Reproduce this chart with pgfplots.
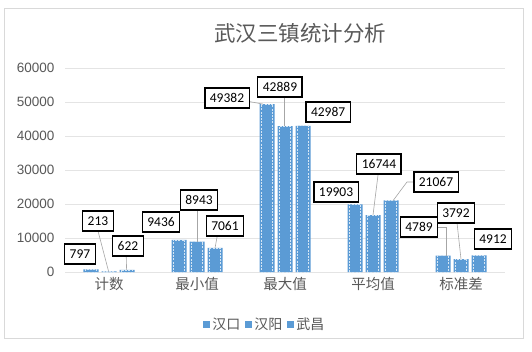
\documentclass[border=0pt]{standalone}
\usepackage{fontspec}
\usepackage{pgfplots}
\pgfplotsset{compat=1.18}
\setmainfont{Carlito}
\newfontfamily\cjk{Noto Sans CJK SC}
\newfontfamily\arialf{Liberation Sans}
\definecolor{barblue}{HTML}{5B9BD5}
\definecolor{txtgray}{HTML}{595959}
\definecolor{gridgray}{HTML}{E4E4E4}
\definecolor{framegray}{HTML}{D9D9D9}
\definecolor{leadgray}{HTML}{A6A6A6}
\pgfplotstableread{
x a b c
0 797 213 622
1 9436 8943 7061
2 49382 42889 42987
3 19903 16744 21067
4 4789 3792 4912
}\datatable
\begin{document}
\begin{tikzpicture}
\path[fill=white] (0pt,0pt) rectangle (532pt,351pt);
\draw[framegray, line width=0.8pt] (4pt,13pt) rectangle (523pt,343pt);
\node[font=\cjk\fontsize{21.5}{24}\selectfont, text=txtgray] at (300pt,318pt) {武汉三镇统计分析};
\begin{axis}[
  at={(65pt,79pt)}, anchor=south west,
  scale only axis, width=440pt, height=204pt,
  clip=false,
  xmin=-0.5, xmax=4.5, ymin=0, ymax=60000,
  ybar,
  xtick={0,1,2,3,4},
  xticklabels={计数,最小值,最大值,平均值,标准差},
  ytick={0,10000,20000,30000,40000,50000,60000},
  scaled y ticks=false,
  /pgf/number format/assume math mode=true,
  /pgf/number format/1000 sep={},
  major tick length=0pt,
  axis line style={draw=none},
  ymajorgrids, grid style={gridgray, line width=0.8pt},
  xticklabel style={font=\cjk\fontsize{14.5}{16}\selectfont, text=txtgray, yshift=-2pt},
  yticklabel style={font=\arialf\fontsize{13.5}{15}\selectfont, text=txtgray, xshift=-7pt},
  legend style={at={(0.4545,-0.255)}, anchor=center, draw=none, fill=none,
    legend columns=3, font=\cjk\fontsize{14}{16}\selectfont, text=txtgray,
    /tikz/every even column/.append style={column sep=3pt},
    /tikz/every odd column/.append style={column sep=0pt}},
  base/.style={fill=barblue, draw=none, bar width=15pt,
    legend image code/.code={\fill[barblue] (0pt,-3.5pt) rectangle (7pt,3.5pt);}},
  over/.style={fill=none, draw=white!75!barblue, dash pattern=on 2pt off 1.2pt,
    line width=0.7pt, bar width=11.5pt, forget plot},
]
\addplot[base, bar shift=-18pt] table[x=x,y=a] {\datatable};
\addplot[base, bar shift=0pt] table[x=x,y=b] {\datatable};
\addplot[base, bar shift=18pt] table[x=x,y=c] {\datatable};
\legend{汉口,汉阳,武昌}
\addplot[over, bar shift=-18pt] table[x=x,y=a] {\datatable};
\addplot[over, bar shift=0pt] table[x=x,y=b] {\datatable};
\addplot[over, bar shift=18pt] table[x=x,y=c] {\datatable};
% leader lines
\draw[leadgray, line width=0.6pt] (axis cs:-0.125,12060) -- (axis cs:-0.005,213);
\draw[leadgray, line width=0.6pt] (axis cs:0.193,7350) -- (axis cs:0.2,622);
\draw[leadgray, line width=0.6pt] (axis cs:1.0,18235) -- (axis cs:1.0,8943);
\draw[leadgray, line width=0.6pt] (axis cs:1.23,10588) -- (axis cs:1.205,7061);
\draw[leadgray, line width=0.6pt] (axis cs:1.56,50294) -- (axis cs:1.75,49382);
\draw[leadgray, line width=0.6pt] (axis cs:1.99,51471) -- (axis cs:1.99,42889);
\draw[leadgray, line width=0.6pt] (axis cs:3.057,28529) -- (axis cs:3.0,16744);
\draw[leadgray, line width=0.6pt] (axis cs:3.455,26471) -- (axis cs:3.386,26471) -- (axis cs:3.23,21067);
\draw[leadgray, line width=0.6pt] (axis cs:3.74,13235) -- (axis cs:3.83,13235) -- (axis cs:3.83,4789);
\draw[leadgray, line width=0.6pt] (axis cs:3.955,14412) -- (axis cs:4.0,3792);
% data labels
\tikzset{dlab/.style={draw=black, line width=1.2pt, fill=white, font=\fontsize{13.5}{14}\selectfont,
  inner xsep=5pt, inner ysep=0pt, minimum height=20pt, text=black}}
\node[dlab] at (axis cs:-0.33,5294) {797};
\node[dlab] at (axis cs:-0.125,15000) {213};
\node[dlab] at (axis cs:0.216,7647) {622};
\node[dlab] at (axis cs:0.591,14706) {9436};
\node[dlab] at (axis cs:1.023,21176) {8943};
\node[dlab] at (axis cs:1.318,13529) {7061};
\node[dlab] at (axis cs:1.341,51176) {49382};
\node[dlab] at (axis cs:1.943,54412) {42889};
\node[dlab] at (axis cs:2.49,47059) {42987};
\node[dlab] at (axis cs:2.58,23529) {19903};
\node[dlab] at (axis cs:3.068,31765) {16744};
\node[dlab] at (axis cs:3.716,26471) {21067};
\node[dlab] at (axis cs:3.523,13235) {4789};
\node[dlab] at (axis cs:3.943,17353) {3792};
\node[dlab] at (axis cs:4.364,9706) {4912};
\end{axis}
\end{tikzpicture}
\end{document}
